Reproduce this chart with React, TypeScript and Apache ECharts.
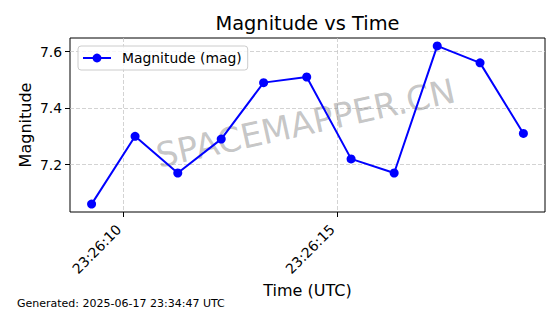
import React, { useEffect, useRef } from "react";
import * as echarts from "echarts";

// ---- data ----
const dateStr = "2025-06-17";
const timeStamps = [
  "23:26:09.249",
  "23:26:10.268",
  "23:26:11.268",
  "23:26:12.286",
  "23:26:13.279",
  "23:26:14.289",
  "23:26:15.329",
  "23:26:16.338",
  "23:26:17.347",
  "23:26:18.350",
  "23:26:19.366",
];
const magnitudes = [7.06, 7.3, 7.17, 7.29, 7.49, 7.51, 7.22, 7.17, 7.62, 7.56, 7.31];
const xTickLabels = ["23:26:10", "23:26:15"];
const yTickValues = [7.2, 7.4, 7.6];

const titleText = "Magnitude vs Time";
const xAxisTitle = "Time (UTC)";
const yAxisTitle = "Magnitude";
const seriesName = "Magnitude (mag)";
const watermarkText = "SPACEMAPPER.CN";
const footerText = "Generated: 2025-06-17 23:34:47 UTC";

const FONT = "DejaVu Sans";

const toMs = (t: string) => Date.parse(`${dateStr}T${t}Z`);
const pad2 = (n: number) => String(n).padStart(2, "0");
const fmtTime = (ms: number) => {
  const d = new Date(ms);
  return `${pad2(d.getUTCHours())}:${pad2(d.getUTCMinutes())}:${pad2(d.getUTCSeconds())}`;
};

export default function App() {
  const ref = useRef<HTMLDivElement>(null);

  useEffect(() => {
    document.body.style.margin = "0";
    if (!ref.current) return;
    const chart = echarts.init(ref.current, null, { renderer: "svg" });

    const xs = timeStamps.map(toMs);
    const xMin0 = Math.min(...xs);
    const xMax0 = Math.max(...xs);
    const xPad = (xMax0 - xMin0) * 0.05;
    const yMin0 = Math.min(...magnitudes);
    const yMax0 = Math.max(...magnitudes);
    const yPad = (yMax0 - yMin0) * 0.05;

    const xTicks = xTickLabels.map(toMs);

    const gridLeft = 70;
    const gridTop = 38;
    const gridW = 475;
    const gridH = 174;
    const cx = gridLeft + gridW / 2;
    const cy = gridTop + gridH / 2;

    const splitLine = {
      show: true,
      lineStyle: { color: "#c8c8c8", width: 0.8, type: [4, 2] as any },
    };

    chart.setOption({
      animation: false,
      backgroundColor: "#ffffff",
      grid: {
        left: gridLeft,
        top: gridTop,
        width: gridW,
        height: gridH,
        show: true,
        borderColor: "#000000",
        borderWidth: 1,
        backgroundColor: "transparent",
        containLabel: false,
        outerBoundsMode: "none",
      },
      legend: {
        data: [seriesName],
        left: 78,
        top: 46,
        itemWidth: 28,
        itemHeight: 11,
        padding: [5, 6, 5, 4],
        backgroundColor: "rgba(255,255,255,0.8)",
        borderColor: "#cccccc",
        borderWidth: 1,
        borderRadius: 3,
        textStyle: {
          fontFamily: FONT,
          fontSize: 13.9,
          color: "#000000",
          padding: [0, 0, 0, 6],
        },
      },
      xAxis: {
        type: "value",
        min: xMin0 - xPad,
        max: xMax0 + xPad,
        axisLine: { show: false },
        axisTick: {
          show: true,
          customValues: xTicks,
          length: 5,
          inside: false,
          lineStyle: { color: "#000000", width: 1 },
        },
        axisLabel: {
          customValues: xTicks,
          formatter: (v: number) => fmtTime(v),
          rotate: 45,
          margin: 20,
          align: "right",
          verticalAlign: "bottom",
          fontFamily: FONT,
          fontSize: 13.9,
          color: "#000000",
        },
        splitLine,
      },
      yAxis: {
        type: "value",
        min: yMin0 - yPad,
        max: yMax0 + yPad,
        axisLine: { show: false },
        axisTick: {
          show: true,
          customValues: yTickValues,
          length: 5,
          inside: false,
          lineStyle: { color: "#000000", width: 1 },
        },
        axisLabel: {
          customValues: yTickValues,
          formatter: (v: number) => v.toFixed(1),
          margin: 8,
          fontFamily: FONT,
          fontSize: 13.9,
          color: "#000000",
        },
        splitLine,
      },
      graphic: [
        {
          type: "text",
          x: cx - 2,
          y: cy - 2,
          rotation: (12.5 * Math.PI) / 180,
          z: 1,
          silent: true,
          style: {
            text: watermarkText,
            fontFamily: FONT,
            fontSize: 34,
            fill: "rgba(128,128,128,0.46)",
            textAlign: "center",
            textVerticalAlign: "middle",
          },
        },
        {
          type: "text",
          x: cx,
          y: 23.5,
          style: {
            text: titleText,
            fontFamily: FONT,
            fontSize: 19.4,
            fill: "#000000",
            textAlign: "center",
            textVerticalAlign: "middle",
          },
        },
        {
          type: "text",
          x: cx,
          y: 290,
          style: {
            text: xAxisTitle,
            fontFamily: FONT,
            fontSize: 16,
            fill: "#000000",
            textAlign: "center",
            textVerticalAlign: "middle",
          },
        },
        {
          type: "text",
          x: 25,
          y: cy,
          rotation: Math.PI / 2,
          style: {
            text: yAxisTitle,
            fontFamily: FONT,
            fontSize: 16,
            fill: "#000000",
            textAlign: "center",
            textVerticalAlign: "middle",
          },
        },
        {
          type: "text",
          x: 17,
          y: 303.5,
          style: {
            text: footerText,
            fontFamily: FONT,
            fontSize: 11,
            fill: "#000000",
            textAlign: "left",
            textVerticalAlign: "middle",
          },
        },
      ],
      series: [
        {
          name: seriesName,
          type: "line",
          data: xs.map((x, i) => [x, magnitudes[i]]),
          symbol: "circle",
          symbolSize: 9,
          showSymbol: true,
          color: "#0000ff",
          itemStyle: { color: "#0000ff" },
          lineStyle: { color: "#0000ff", width: 2 },
          z: 3,
        },
      ],
    });

    return () => chart.dispose();
  }, []);

  return <div ref={ref} style={{ width: 560, height: 314 }} />;
}
